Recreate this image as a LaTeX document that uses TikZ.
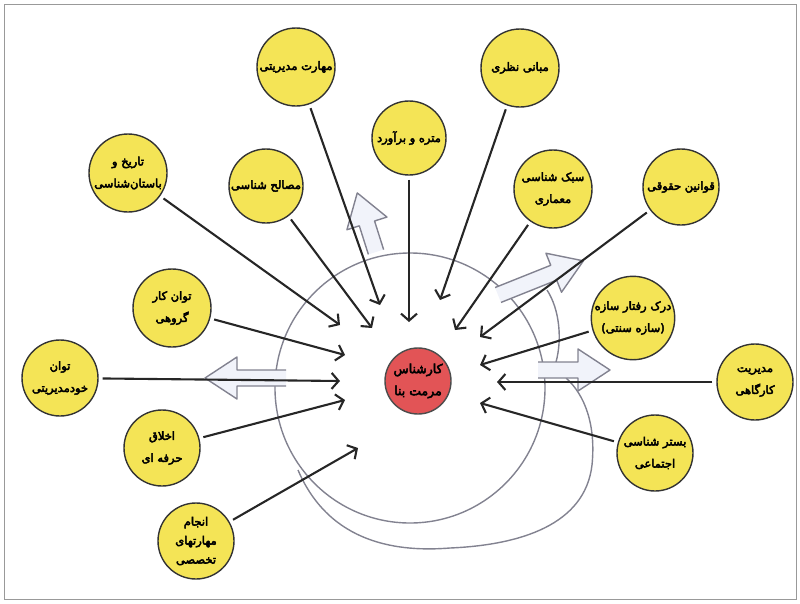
\documentclass[tikz,border=0pt]{standalone}
\usepackage{fontspec}
\usepackage{tikz}
\usetikzlibrary{arrows.meta}
\newfontfamily\farsi[Script=Arabic, FakeBold=4]{DejaVu Sans}
\TeXXeTstate=1
\definecolor{jaune}{RGB}{244,228,86}
\definecolor{rouge}{RGB}{226,84,86}
\definecolor{tube}{RGB}{130,130,144}
\definecolor{creux}{RGB}{241,243,250}
\def\largeur{800}
\def\hauteur{603}
% fleche creuse : base x, base y, angle, longueur
\newcommand{\flechecreuse}[4]{%
  \begin{scope}[shift={(#1,#2)}, rotate=#3]
    \draw[creuse] (0,-8) -- ({#4-32},-8) -- ({#4-32},-21) -- (#4,0) -- ({#4-32},21) -- ({#4-32},8) -- (0,8);
  \end{scope}}

\begin{document}
\begin{tikzpicture}[x=1pt, y=-1pt,
  bulle/.style={circle, draw=black!80, line width=1.4pt, fill=jaune, minimum size=78pt, inner sep=0pt, align=center, font=\farsi\fontsize{11.5}{22}\selectfont},
  fleche/.style={-{Straight Barb[length=7pt,width=16pt]}, line width=2.1pt, black!85, shorten <=4pt},
  contour/.style={draw=tube, line width=1.4pt},
  creuse/.style={contour, fill=creux, line join=round}]
	\useasboundingbox (0,0) rectangle (\largeur,\hauteur);
	\draw[black!40, line width=0.6pt] (4,4) rectangle (796,599);
	%\draw[step=50, black!10] (0,0) grid (\largeur,\hauteur);

	% cercle et tube
	\draw[contour] (410,388) circle (135);
	\draw[contour] (298,470) .. controls (330,545) and (400,552) .. (450,548) .. controls (520,545) and (585,525) .. (592,465) .. controls (596,425) and (585,395) .. (566,378);
	\draw[contour] (547,290) .. controls (560,310) and (562,340) .. (556,362);
	\flechecreuse{376}{252}{107.6}{62}
	\flechecreuse{498}{295}{21.8}{92}
	\flechecreuse{286}{378}{180}{81}
	\flechecreuse{538}{370}{0}{72}

	% bulles
	\node[bulle] (modiriat) at (296,67) {\beginR مهارت مدیریتی\endR};
	\node[bulle] (mabani) at (520,68) {\beginR مبانی نظری\endR};
	\node[bulle, minimum size=74pt] (metre) at (409,138) {\beginR متره و برآورد\endR};
	\node[bulle] (tarikh) at (128,173) {\beginR تاریخ و\endR\\\beginR باستان‌شناسی\endR};
	\node[bulle, minimum size=74pt] (masaleh) at (266,186) {\beginR مصالح شناسی\endR};
	\node[bulle] (sabk) at (553,189) {\beginR سبک شناسی\endR\\\beginR معماری\endR};
	\node[bulle, minimum size=76pt] (ghavanin) at (681,187) {\beginR قوانین حقوقی\endR};
	\node[bulle] (goruhi) at (172,308) {\beginR توان کار\endR\\\beginR گروهی\endR};
	\node[bulle] (sazeh) at (633,318) {\beginR درک رفتار سازه\endR\\\beginR (سازه سنتی)\endR};
	\node[bulle, minimum size=76pt] (khod) at (60,378) {\beginR توان\endR\\\beginR خودمدیریتی\endR};
	\node[bulle, minimum size=76pt] (kargah) at (755,382) {\beginR مدیریت\endR\\\beginR کارگاهی\endR};
	\node[bulle, minimum size=76pt] (akhlagh) at (162,448) {\beginR اخلاق\endR\\\beginR حرفه ای\endR};
	\node[bulle, minimum size=76pt] (bastar) at (655,453) {\beginR بستر شناسی\endR\\\beginR اجتماعی\endR};
	\node[bulle, minimum size=76pt, font=\farsi\fontsize{11.5}{19}\selectfont] (maharat) at (196,541) {\beginR انجام\endR\\\beginR مهارتهای\endR\\\beginR تخصصی\endR};
	\node[bulle, fill=rouge, draw=black!70, minimum size=66pt, font=\farsi\fontsize{12.5}{22}\selectfont] (karshenas) at (418,381) {\beginR کارشناس\endR\\\beginR مرمت بنا\endR};

	% bouts des fleches
	\coordinate (pModiriat) at (380,305);
	\coordinate (pMabani) at (440,300);
	\coordinate (pMetre) at (409,322);
	\coordinate (pTarikh) at (340,325);
	\coordinate (pMasaleh) at (372,328);
	\coordinate (pSabk) at (455,330);
	\coordinate (pGhavanin) at (480,337);
	\coordinate (pGoruhi) at (345,355);
	\coordinate (pSazeh) at (480,365);
	\coordinate (pKhod) at (340,381);
	\coordinate (pKargah) at (497,382);
	\coordinate (pAkhlagh) at (345,400);
	\coordinate (pBastar) at (480,403);
	\coordinate (pMaharat) at (358,448);

	\draw[fleche] (modiriat) -- (pModiriat);
	\draw[fleche] (mabani) -- (pMabani);
	\draw[fleche] (metre) -- (pMetre);
	\draw[fleche] (tarikh) -- (pTarikh);
	\draw[fleche] (masaleh) -- (pMasaleh);
	\draw[fleche] (sabk) -- (pSabk);
	\draw[fleche] (ghavanin) -- (pGhavanin);
	\draw[fleche] (goruhi) -- (pGoruhi);
	\draw[fleche] (sazeh) -- (pSazeh);
	\draw[fleche] (khod) -- (pKhod);
	\draw[fleche] (kargah) -- (pKargah);
	\draw[fleche] (akhlagh) -- (pAkhlagh);
	\draw[fleche] (bastar) -- (pBastar);
	\draw[fleche] (maharat) -- (pMaharat);
\end{tikzpicture}
\end{document}
